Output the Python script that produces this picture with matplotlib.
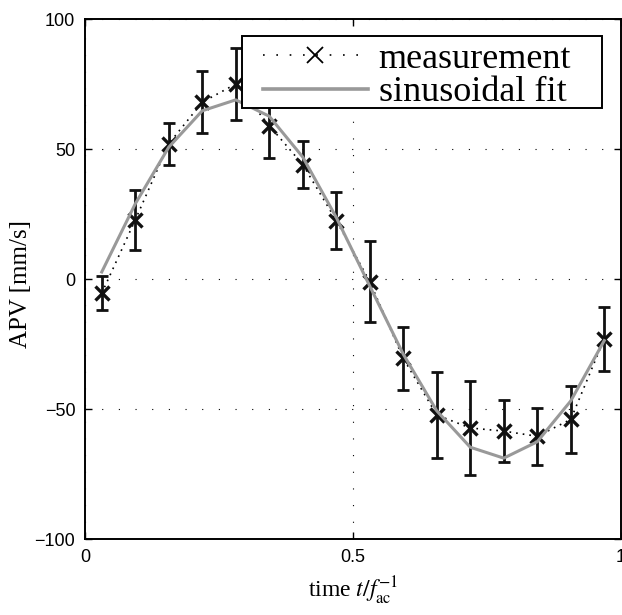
import numpy as np
import matplotlib
matplotlib.use("Agg")
import matplotlib.pyplot as plt
from matplotlib.lines import Line2D
from matplotlib.patches import Rectangle

# time in units of 1/f_ac (16 samples per period)
t = [0.03125, 0.09375, 0.15625, 0.21875, 0.28125, 0.34375, 0.40625, 0.46875,
     0.53125, 0.59375, 0.65625, 0.71875, 0.78125, 0.84375, 0.90625, 0.96875]
apv = [-5.5, 22.7, 52, 68, 75, 59, 44, 22.5,
       -1, -30.5, -52.3, -57.3, -58.5, -60.5, -54, -23]
apv_err = [6.5, 11.5, 8, 12, 14, 12.5, 9, 11,
           15.5, 12, 16.4, 18, 12, 11, 13, 12.3]
# sinusoidal fit at the same times
fit = [2.7, 28.9, 50.7, 64.7, 68.9, 62.6, 46.9, 23.7,
       -2.7, -28.9, -50.7, -64.7, -68.9, -62.6, -46.9, -23.7]

plt.rcParams['mathtext.fontset'] = 'stix'

fig = plt.figure(figsize=(6.22, 6.15), dpi=100)
ax = fig.add_axes([85 / 622, 76 / 615, 536 / 622, 520 / 615])

ax.errorbar(t, apv, yerr=apv_err, fmt='none', ecolor='#111111',
            elinewidth=2.0, capsize=4.5, capthick=2.0, zorder=3)
ax.plot(t, apv, linestyle=(0, (1, 3)), color='black', linewidth=1.2, marker='x',
        markersize=10, markeredgewidth=2.4, markeredgecolor='#111111', zorder=4)
ax.plot(t, fit, color='#999999', linewidth=2.2, zorder=5)

ax.set_xlim(0, 1)
ax.set_ylim(-100, 100)
ax.set_xticks([0, 0.5, 1])
ax.set_xticklabels(['0', '0.5', '1'])
ax.set_yticks([-100, -50, 0, 50, 100])
ax.set_yticklabels(['\u2212100', '\u221250', '0', '50', '100'])

ax.grid(True, color='black', linestyle=(0, (1, 14)), linewidth=0.8)
ax.tick_params(direction='in', top=True, right=True, length=5, width=1,
               labelsize=13, pad=7)
for lab in ax.get_xticklabels() + ax.get_yticklabels():
    lab.set_family('Liberation Sans')
for s in ax.spines.values():
    s.set_linewidth(1.4)

ax.set_xlabel(r'time $t/f_{\mathrm{ac}}^{-1}$', family='Liberation Serif', fontsize=17)
ax.set_ylabel('APV [mm/s]', family='Liberation Serif', fontsize=18)
ax.xaxis.set_label_coords(0.5, -0.07)
ax.yaxis.set_label_coords(-0.099, 0.49)

# legend box, drawn separately so it can have the wide right margin of the original
box = Rectangle((0.2929, 0.8288), 0.9646 - 0.2929, 0.9673 - 0.8288,
                transform=ax.transAxes, facecolor='white', edgecolor='black',
                linewidth=1.4, zorder=9)
ax.add_patch(box)

handles = [Line2D([], [], linestyle=(0, (1, 7)), color='black', linewidth=1.2,
                  marker='x', markersize=12, markeredgewidth=1.3),
           Line2D([], [], color='#999999', linewidth=2.6)]
leg = ax.legend(handles, ['measurement', 'sinusoidal fit'],
                loc='upper left', bbox_to_anchor=(0.322, 0.965),
                borderaxespad=0, frameon=False, handlelength=2.9,
                handletextpad=0.3, labelspacing=0.0, borderpad=0.15,
                prop={'family': 'Liberation Serif', 'size': 26})
leg.set_zorder(10)

plt.savefig('out.png', dpi=100)
